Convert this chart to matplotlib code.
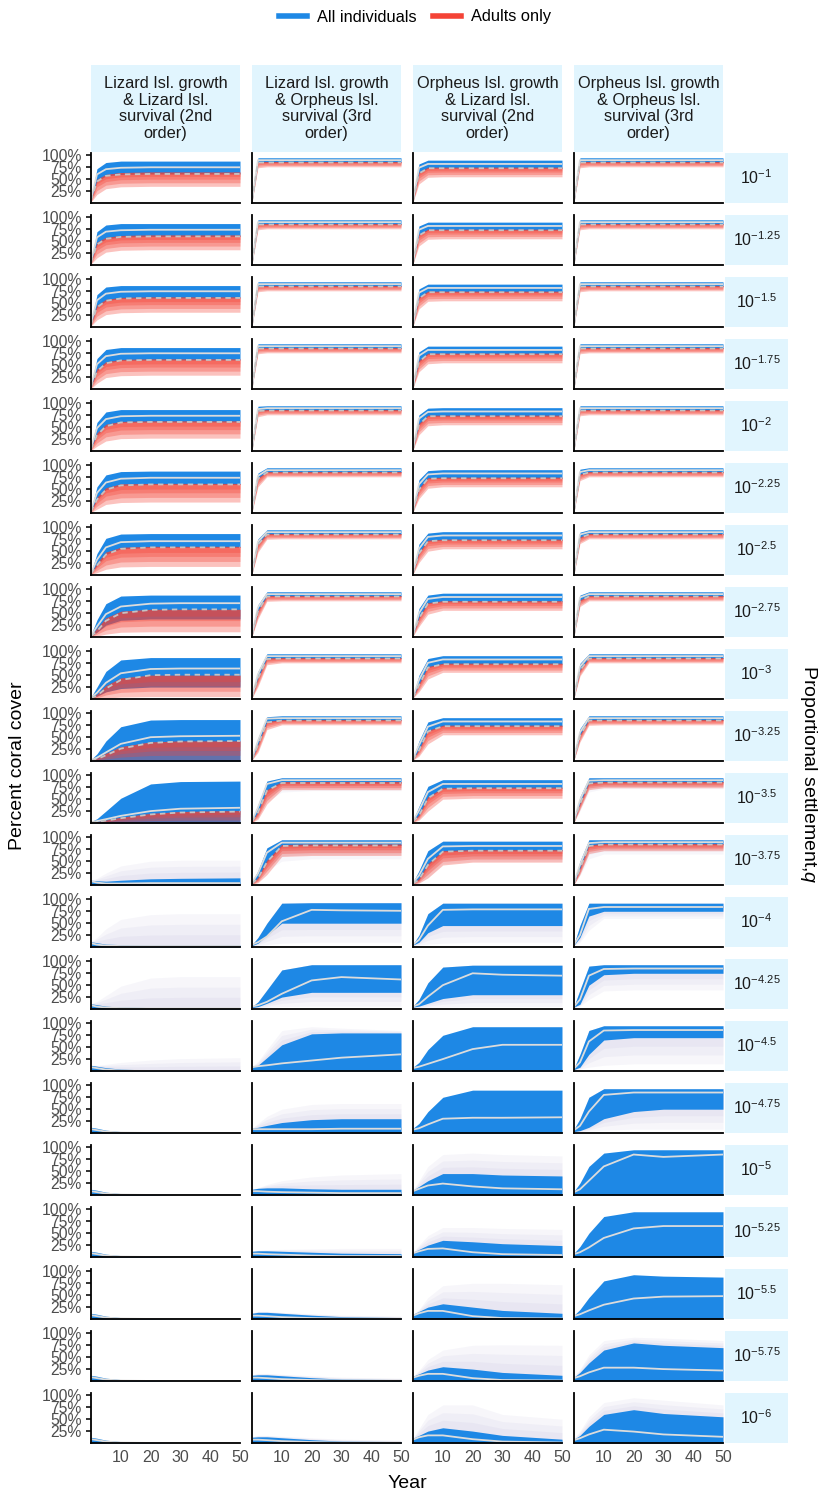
import numpy as np
import matplotlib.pyplot as plt
from matplotlib.lines import Line2D

plt.rcParams['font.family'] = ['Liberation Sans', 'DejaVu Sans']
plt.rcParams['mathtext.fontset'] = 'custom'
plt.rcParams['mathtext.rm'] = 'Liberation Sans'
plt.rcParams['mathtext.it'] = 'Liberation Sans:italic'

# sampled years for every trajectory summary
YEARS = [0, 2, 5, 10, 20, 30, 50]

PANEL_TITLES = [
    "Lizard Isl. growth\n& Lizard Isl.\nsurvival (2nd\norder)",
    "Lizard Isl. growth\n& Orpheus Isl.\nsurvival (3rd\norder)",
    "Orpheus Isl. growth\n& Lizard Isl.\nsurvival (2nd\norder)",
    "Orpheus Isl. growth\n& Orpheus Isl.\nsurvival (3rd\norder)",
]
Q_EXPONENTS = ['-1', '-1.25', '-1.5', '-1.75', '-2', '-2.25', '-2.5', '-2.75',
               '-3', '-3.25', '-3.5', '-3.75', '-4', '-4.25', '-4.5', '-4.75',
               '-5', '-5.25', '-5.5', '-5.75', '-6']
Y_TICKS = [0.25, 0.5, 0.75, 1.0]
Y_TICK_LABELS = ['25%', '50%', '75%', '100%']
X_TICKS = [10, 20, 30, 40, 50]

# ---- Lizard growth & Lizard survival ----
LL_HI = [
    [.10, .72, .85, .88, .88, .88, .88],
    [.10, .70, .84, .87, .87, .87, .87],
    [.10, .68, .84, .87, .87, .87, .87],
    [.09, .64, .83, .87, .87, .87, .87],
    [.08, .60, .82, .87, .87, .87, .87],
    [.07, .55, .80, .87, .88, .88, .88],
    [.06, .45, .77, .86, .87, .87, .87],
    [.05, .36, .70, .86, .88, .88, .88],
    [.04, .25, .58, .82, .87, .87, .87],
    [.03, .15, .42, .72, .86, .87, .87],
    [.03, .09, .25, .52, .82, .87, .88],
    [.10, .09, .08, .10, .13, .14, .15],
    [.11, .09, .06, .05, .04, .04, .04],
    [.11, .09, .06, .04, .03, .03, .03],
    [.12, .10, .07, .04, .02, .02, .02],
    [.12, .10, .06, .03, .01, .00, .00],
    [.12, .10, .06, .03, .01, .00, .00],
    [.12, .10, .06, .03, .01, .00, .00],
    [.12, .10, .06, .03, .01, .00, .00],
    [.12, .10, .06, .03, .01, .00, .00],
    [.12, .10, .06, .03, .01, .00, .00],
]
LL_MED = [
    [.08, .60, .71, .74, .75, .75, .75],
    [.08, .58, .70, .73, .74, .74, .74],
    [.08, .56, .70, .74, .75, .75, .75],
    [.07, .52, .69, .74, .75, .75, .75],
    [.06, .48, .67, .73, .74, .74, .74],
    [.05, .42, .64, .72, .74, .74, .74],
    [.04, .32, .58, .69, .71, .71, .71],
    [.03, .22, .48, .64, .70, .71, .71],
    [.03, .13, .34, .54, .63, .64, .64],
    [.02, .07, .18, .36, .50, .52, .53],
    [.02, .04, .08, .15, .25, .30, .32],
    [.08, .05, .03, .03, .04, .04, .04],
    [.08, .05, .03, .02, .02, .02, .02],
    [.08, .05, .03, .02, .01, .01, .01],
    [.08, .06, .03, .01, .00, .00, .00],
    [.08, .06, .03, .01, .00, .00, .00],
    [.08, .06, .03, .01, .00, .00, .00],
    [.08, .06, .03, .01, .00, .00, .00],
    [.08, .06, .03, .01, .00, .00, .00],
    [.08, .06, .03, .01, .00, .00, .00],
    [.08, .06, .03, .01, .00, .00, .00],
]
LL_LO = {
    7: [.02, .10, .25, .35, .38, .38, .38],
    8: [.01, .06, .15, .22, .25, .25, .25],
    9: [0, 0, 0, 0, 0, 0, 0],
    10: [0, 0, 0, 0, 0, 0, 0], 11: [0, 0, 0, 0, 0, 0, 0],
    12: [0, 0, 0, 0, 0, 0, 0], 13: [0, 0, 0, 0, 0, 0, 0],
    14: [0, 0, 0, 0, 0, 0, 0], 15: [0, 0, 0, 0, 0, 0, 0],
    16: [0, 0, 0, 0, 0, 0, 0], 17: [0, 0, 0, 0, 0, 0, 0],
    18: [0, 0, 0, 0, 0, 0, 0], 19: [0, 0, 0, 0, 0, 0, 0],
    20: [0, 0, 0, 0, 0, 0, 0],
}
LL_SPREAD_HI = {
    11: [.10, .14, .25, .40, .50, .52, .52],
    12: [.11, .20, .38, .58, .68, .70, .70],
    13: [.11, .16, .28, .48, .65, .68, .68],
    14: [.12, .12, .14, .18, .23, .26, .28],
}
LL_SPREAD_LO = {}
LL_AD_HI = [
    [.06, .50, .60, .64, .65, .65, .65],
    [.06, .48, .58, .62, .63, .63, .63],
    [.06, .46, .58, .62, .63, .63, .63],
    [.05, .42, .57, .62, .63, .63, .63],
    [.05, .38, .56, .62, .63, .63, .63],
    [.04, .33, .53, .61, .62, .62, .62],
    [.03, .25, .48, .58, .60, .60, .60],
    [.03, .18, .40, .54, .58, .58, .58],
    [.02, .10, .28, .44, .50, .50, .50],
    [.02, .06, .16, .30, .40, .42, .42],
    [.01, .03, .06, .12, .20, .24, .26],
]
LL_AD_MED = [
    [.05, .45, .57, .60, .61, .61, .61],
    [.05, .43, .55, .59, .60, .60, .60],
    [.05, .41, .55, .60, .61, .61, .61],
    [.04, .37, .54, .60, .61, .61, .61],
    [.04, .33, .52, .60, .61, .61, .61],
    [.03, .28, .49, .58, .60, .60, .60],
    [.03, .20, .43, .55, .58, .58, .58],
    [.02, .12, .34, .50, .57, .58, .58],
    [.02, .07, .22, .40, .50, .51, .51],
    [.01, .04, .12, .26, .38, .41, .42],
    [.01, .02, .05, .10, .18, .22, .24],
]
LL_AD_LO = [
    [.02, .18, .30, .34, .35, .35, .35],
    [.02, .15, .27, .31, .32, .32, .32],
    [.02, .15, .26, .30, .31, .31, .31],
    [.01, .12, .24, .28, .29, .29, .29],
    [.01, .10, .21, .26, .27, .27, .27],
    [.01, .08, .18, .22, .23, .23, .23],
    [.01, .05, .12, .17, .18, .18, .18],
    [.00, .02, .06, .10, .11, .11, .11],
    [.00, .00, .02, .04, .05, .05, .05],
    [.00, .00, .00, .01, .02, .02, .02],
    [.00, .00, .00, .00, .00, .00, .00],
]

# ---- Lizard growth & Orpheus survival ----
LO_HI = [
    [.08, .95, .95, .95, .95, .95, .95],
    [.08, .95, .95, .95, .95, .95, .95],
    [.08, .95, .95, .95, .95, .95, .95],
    [.08, .95, .95, .95, .95, .95, .95],
    [.08, .94, .95, .95, .95, .95, .95],
    [.08, .84, .95, .95, .95, .95, .95],
    [.08, .76, .95, .95, .95, .95, .95],
    [.07, .68, .95, .95, .95, .95, .95],
    [.07, .58, .95, .95, .95, .95, .95],
    [.06, .48, .93, .95, .95, .95, .95],
    [.06, .38, .88, .95, .95, .95, .95],
    [.06, .30, .78, .95, .95, .95, .95],
    [.05, .20, .50, .92, .93, .93, .93],
    [.05, .15, .40, .82, .93, .93, .93],
    [.08, .12, .28, .55, .78, .80, .80],
    [.10, .12, .16, .22, .28, .30, .30],
    [.12, .14, .15, .15, .13, .12, .12],
    [.12, .13, .13, .12, .10, .08, .07],
    [.12, .14, .14, .12, .08, .05, .03],
    [.12, .13, .13, .11, .07, .04, .03],
    [.12, .13, .13, .11, .07, .04, .03],
]
LO_MED = [
    [.06, .90, .90, .90, .90, .90, .90],
    [.06, .90, .90, .90, .90, .90, .90],
    [.06, .90, .90, .90, .90, .90, .90],
    [.06, .90, .90, .90, .90, .90, .90],
    [.06, .88, .90, .90, .90, .90, .90],
    [.06, .78, .90, .90, .90, .90, .90],
    [.06, .70, .90, .90, .90, .90, .90],
    [.05, .62, .90, .90, .90, .90, .90],
    [.05, .52, .90, .90, .90, .90, .90],
    [.05, .42, .89, .90, .90, .90, .90],
    [.05, .32, .82, .90, .90, .90, .90],
    [.05, .24, .68, .89, .89, .89, .89],
    [.05, .10, .22, .54, .78, .77, .76],
    [.05, .08, .15, .32, .60, .67, .62],
    [.08, .10, .12, .16, .22, .28, .35],
    [.08, .08, .08, .08, .08, .09, .09],
    [.08, .08, .07, .06, .05, .04, .04],
    [.07, .07, .06, .05, .03, .02, .02],
    [.07, .07, .06, .04, .02, .01, .01],
    [.07, .07, .06, .04, .02, .01, .01],
    [.07, .07, .06, .04, .02, .01, .01],
]
LO_LO = {
    12: [.03, .08, .25, .50, .50, .50, .50],
    13: [.03, .05, .12, .25, .35, .35, .35],
    14: [0, 0, 0, 0, 0, 0, 0], 15: [0, 0, 0, 0, 0, 0, 0],
    16: [0, 0, 0, 0, 0, 0, 0], 17: [0, 0, 0, 0, 0, 0, 0],
    18: [0, 0, 0, 0, 0, 0, 0], 19: [0, 0, 0, 0, 0, 0, 0],
    20: [0, 0, 0, 0, 0, 0, 0],
}
LO_SPREAD_HI = {
    14: [.10, .20, .45, .85, .93, .90, .85],
    15: [.10, .20, .35, .50, .60, .62, .62],
    16: [.12, .15, .22, .30, .38, .42, .45],
    17: [.12, .14, .15, .16, .17, .18, .18],
    18: [.13, .16, .16, .14, .11, .08, .06],
    19: [.13, .16, .16, .14, .11, .08, .06],
    20: [.13, .16, .16, .14, .11, .08, .06],
}
LO_SPREAD_LO = {
    10: [.03, .15, .45, .65, .68, .68, .68],
    11: [.03, .08, .30, .50, .55, .55, .55],
    12: [.02, .03, .05, .08, .10, .10, .10],
    13: [.02, .02, .03, .05, .06, .06, .06],
}
LO_AD_HI = [
    [.04, .87, .87, .87, .87, .87, .87],
    [.04, .87, .87, .87, .87, .87, .87],
    [.04, .87, .87, .87, .87, .87, .87],
    [.04, .87, .87, .87, .87, .87, .87],
    [.04, .86, .87, .87, .87, .87, .87],
    [.04, .74, .87, .87, .87, .87, .87],
    [.04, .66, .87, .87, .87, .87, .87],
    [.04, .56, .87, .87, .87, .87, .87],
    [.04, .45, .86, .87, .87, .87, .87],
    [.03, .35, .83, .87, .87, .87, .87],
    [.03, .24, .70, .87, .87, .87, .87],
    [.03, .16, .52, .85, .86, .86, .86],
]
LO_AD_MED = [
    [.04, .85, .85, .85, .85, .85, .85],
    [.04, .85, .85, .85, .85, .85, .85],
    [.04, .85, .85, .85, .85, .85, .85],
    [.04, .85, .85, .85, .85, .85, .85],
    [.04, .84, .85, .85, .85, .85, .85],
    [.04, .72, .85, .85, .85, .85, .85],
    [.04, .64, .85, .85, .85, .85, .85],
    [.04, .54, .85, .85, .85, .85, .85],
    [.04, .43, .84, .85, .85, .85, .85],
    [.03, .33, .81, .85, .85, .85, .85],
    [.03, .22, .68, .84, .84, .84, .84],
    [.03, .14, .48, .82, .83, .83, .83],
]
LO_AD_LO = [
    [.02, .74, .76, .76, .76, .76, .76],
    [.02, .74, .76, .76, .76, .76, .76],
    [.02, .74, .76, .76, .76, .76, .76],
    [.02, .74, .76, .76, .76, .76, .76],
    [.02, .72, .76, .76, .76, .76, .76],
    [.02, .55, .76, .76, .76, .76, .76],
    [.02, .48, .75, .76, .76, .76, .76],
    [.02, .38, .75, .76, .76, .76, .76],
    [.02, .26, .72, .76, .76, .76, .76],
    [.02, .18, .66, .76, .76, .76, .76],
    [.01, .08, .40, .70, .70, .70, .70],
    [.01, .05, .22, .60, .62, .62, .62],
]

# ---- Orpheus growth & Lizard survival ----
OL_HI = [
    [.08, .82, .90, .90, .90, .90, .90],
    [.08, .82, .90, .90, .90, .90, .90],
    [.08, .80, .90, .90, .90, .90, .90],
    [.08, .78, .90, .90, .90, .90, .90],
    [.08, .76, .90, .91, .91, .91, .91],
    [.07, .70, .89, .91, .91, .91, .91],
    [.07, .65, .88, .91, .91, .91, .91],
    [.07, .60, .88, .92, .92, .92, .92],
    [.06, .50, .85, .91, .91, .91, .91],
    [.06, .42, .82, .91, .91, .91, .91],
    [.06, .35, .77, .91, .91, .91, .91],
    [.06, .30, .72, .92, .92, .92, .92],
    [.06, .25, .70, .92, .92, .92, .92],
    [.06, .20, .55, .88, .92, .92, .92],
    [.08, .18, .45, .75, .93, .93, .93],
    [.10, .20, .45, .75, .90, .90, .90],
    [.10, .18, .30, .45, .45, .42, .40],
    [.10, .16, .25, .35, .32, .28, .24],
    [.10, .16, .25, .32, .25, .18, .12],
    [.10, .15, .23, .30, .25, .18, .12],
    [.10, .16, .25, .32, .25, .16, .08],
]
OL_MED = [
    [.06, .74, .82, .82, .82, .82, .82],
    [.06, .74, .82, .82, .82, .82, .82],
    [.06, .72, .82, .82, .82, .82, .82],
    [.06, .70, .82, .82, .82, .82, .82],
    [.06, .68, .82, .83, .83, .83, .83],
    [.05, .60, .81, .83, .83, .83, .83],
    [.05, .55, .80, .83, .83, .83, .83],
    [.05, .50, .80, .84, .84, .84, .84],
    [.05, .40, .76, .83, .83, .83, .83],
    [.05, .33, .72, .83, .83, .83, .83],
    [.05, .26, .65, .82, .82, .82, .82],
    [.05, .20, .55, .81, .82, .82, .82],
    [.05, .15, .45, .78, .79, .79, .79],
    [.05, .10, .26, .50, .75, .72, .70],
    [.06, .09, .15, .25, .46, .55, .55],
    [.07, .10, .18, .30, .32, .32, .33],
    [.08, .13, .20, .24, .18, .14, .12],
    [.08, .12, .17, .18, .10, .06, .04],
    [.07, .12, .17, .17, .06, .02, .01],
    [.07, .11, .15, .15, .06, .02, .01],
    [.07, .12, .16, .16, .08, .03, .01],
]
OL_LO = {
    12: [.04, .10, .30, .45, .45, .45, .45],
    13: [.04, .06, .12, .22, .30, .30, .30],
    14: [0, 0, 0, 0, 0, 0, 0], 15: [0, 0, 0, 0, 0, 0, 0],
    16: [0, 0, 0, 0, 0, 0, 0], 17: [0, 0, 0, 0, 0, 0, 0],
    18: [0, 0, 0, 0, 0, 0, 0], 19: [0, 0, 0, 0, 0, 0, 0],
    20: [0, 0, 0, 0, 0, 0, 0],
}
OL_SPREAD_HI = {
    16: [.10, .30, .60, .85, .88, .85, .82],
    17: [.10, .25, .45, .62, .62, .60, .58],
    18: [.10, .20, .45, .70, .75, .75, .72],
    19: [.10, .22, .45, .65, .75, .76, .75],
    20: [.10, .30, .60, .80, .80, .60, .50],
}
OL_SPREAD_LO = {
    11: [.03, .05, .15, .45, .50, .50, .50],
    12: [.03, .04, .06, .08, .10, .10, .10],
    13: [.02, .02, .03, .04, .05, .05, .05],
}
OL_AD_HI = [
    [.05, .65, .75, .75, .75, .75, .75],
    [.05, .65, .75, .75, .75, .75, .75],
    [.05, .63, .75, .75, .75, .75, .75],
    [.05, .60, .75, .75, .75, .75, .75],
    [.05, .58, .75, .75, .75, .75, .75],
    [.05, .52, .74, .75, .75, .75, .75],
    [.04, .48, .73, .75, .75, .75, .75],
    [.04, .42, .72, .76, .76, .76, .76],
    [.04, .32, .68, .75, .75, .75, .75],
    [.04, .25, .64, .75, .75, .75, .75],
    [.03, .18, .55, .74, .75, .75, .75],
    [.03, .14, .45, .72, .74, .74, .74],
]
OL_AD_MED = [
    [.04, .62, .73, .73, .73, .73, .73],
    [.04, .62, .73, .73, .73, .73, .73],
    [.04, .60, .73, .73, .73, .73, .73],
    [.04, .57, .73, .73, .73, .73, .73],
    [.04, .55, .73, .73, .73, .73, .73],
    [.04, .49, .72, .73, .73, .73, .73],
    [.04, .45, .71, .73, .73, .73, .73],
    [.04, .39, .70, .74, .74, .74, .74],
    [.03, .29, .66, .73, .73, .73, .73],
    [.03, .22, .62, .73, .73, .73, .73],
    [.03, .15, .52, .72, .73, .73, .73],
    [.03, .11, .42, .70, .72, .72, .72],
]
OL_AD_LO = [
    [.02, .40, .54, .55, .55, .55, .55],
    [.02, .40, .54, .55, .55, .55, .55],
    [.02, .38, .54, .55, .55, .55, .55],
    [.02, .36, .53, .55, .55, .55, .55],
    [.02, .34, .53, .55, .55, .55, .55],
    [.02, .30, .52, .55, .55, .55, .55],
    [.02, .26, .50, .55, .55, .55, .55],
    [.02, .22, .48, .56, .56, .56, .56],
    [.02, .15, .42, .56, .56, .56, .56],
    [.02, .10, .36, .55, .55, .55, .55],
    [.01, .06, .25, .50, .52, .52, .52],
    [.01, .04, .15, .42, .48, .48, .48],
]

# ---- Orpheus growth & Orpheus survival ----
OO_HI = [
    [.08, .95, .95, .95, .95, .95, .95],
    [.08, .95, .95, .95, .95, .95, .95],
    [.08, .95, .95, .95, .95, .95, .95],
    [.08, .95, .95, .95, .95, .95, .95],
    [.08, .95, .95, .95, .95, .95, .95],
    [.08, .92, .95, .95, .95, .95, .95],
    [.08, .90, .95, .95, .95, .95, .95],
    [.08, .88, .95, .95, .95, .95, .95],
    [.07, .75, .95, .95, .95, .95, .95],
    [.07, .68, .95, .95, .95, .95, .95],
    [.06, .55, .95, .95, .95, .95, .95],
    [.06, .50, .95, .95, .95, .95, .95],
    [.06, .45, .92, .92, .92, .92, .92],
    [.06, .40, .90, .93, .93, .93, .93],
    [.06, .35, .85, .95, .95, .95, .95],
    [.08, .30, .75, .93, .93, .93, .93],
    [.08, .25, .60, .88, .95, .95, .95],
    [.08, .22, .50, .85, .95, .95, .95],
    [.08, .20, .45, .80, .93, .90, .88],
    [.08, .18, .38, .65, .80, .75, .70],
    [.08, .16, .35, .60, .70, .62, .55],
]
OO_MED = [
    [.06, .90, .90, .90, .90, .90, .90],
    [.06, .90, .90, .90, .90, .90, .90],
    [.06, .90, .90, .90, .90, .90, .90],
    [.06, .90, .90, .90, .90, .90, .90],
    [.06, .90, .90, .90, .90, .90, .90],
    [.06, .86, .90, .90, .90, .90, .90],
    [.06, .85, .90, .90, .90, .90, .90],
    [.06, .83, .90, .90, .90, .90, .90],
    [.06, .68, .90, .90, .90, .90, .90],
    [.06, .60, .90, .90, .90, .90, .90],
    [.05, .48, .89, .90, .90, .90, .90],
    [.05, .42, .88, .90, .90, .90, .90],
    [.05, .25, .80, .84, .84, .84, .84],
    [.05, .20, .70, .84, .85, .85, .85],
    [.05, .18, .62, .85, .86, .86, .86],
    [.06, .15, .45, .80, .85, .85, .85],
    [.06, .12, .30, .60, .85, .80, .85],
    [.06, .10, .20, .40, .60, .65, .65],
    [.06, .10, .18, .30, .43, .47, .48],
    [.06, .10, .18, .28, .28, .25, .22],
    [.06, .10, .18, .28, .24, .18, .13],
]
OO_LO = {
    12: [.04, .20, .65, .75, .75, .75, .75],
    13: [.04, .10, .50, .72, .75, .75, .75],
    14: [.03, .08, .35, .65, .70, .70, .70],
    15: [.03, .05, .12, .30, .45, .50, .50],
    16: [0, 0, 0, 0, 0, 0, 0], 17: [0, 0, 0, 0, 0, 0, 0],
    18: [0, 0, 0, 0, 0, 0, 0], 19: [0, 0, 0, 0, 0, 0, 0],
    20: [0, 0, 0, 0, 0, 0, 0],
}
OO_SPREAD_HI = {
    19: [.10, .25, .55, .85, .92, .90, .85],
    20: [.10, .25, .55, .85, .95, .90, .80],
}
OO_SPREAD_LO = {
    10: [.03, .25, .65, .72, .72, .72, .72],
    11: [.03, .20, .55, .65, .65, .65, .65],
    12: [.03, .10, .35, .60, .60, .60, .60],
    13: [.03, .06, .20, .38, .40, .40, .40],
    14: [.02, .04, .08, .12, .15, .15, .15],
    15: [.02, .02, .04, .06, .08, .08, .08],
}
OO_AD_HI = [
    [.04, .87, .87, .87, .87, .87, .87],
    [.04, .87, .87, .87, .87, .87, .87],
    [.04, .87, .87, .87, .87, .87, .87],
    [.04, .87, .87, .87, .87, .87, .87],
    [.04, .87, .87, .87, .87, .87, .87],
    [.04, .82, .87, .87, .87, .87, .87],
    [.04, .80, .87, .87, .87, .87, .87],
    [.04, .78, .87, .87, .87, .87, .87],
    [.04, .62, .87, .87, .87, .87, .87],
    [.04, .55, .87, .87, .87, .87, .87],
    [.03, .42, .85, .87, .87, .87, .87],
    [.03, .36, .84, .87, .87, .87, .87],
]
OO_AD_MED = [
    [.04, .85, .85, .85, .85, .85, .85],
    [.04, .85, .85, .85, .85, .85, .85],
    [.04, .85, .85, .85, .85, .85, .85],
    [.04, .85, .85, .85, .85, .85, .85],
    [.04, .85, .85, .85, .85, .85, .85],
    [.04, .80, .85, .85, .85, .85, .85],
    [.04, .78, .85, .85, .85, .85, .85],
    [.04, .76, .85, .85, .85, .85, .85],
    [.04, .60, .85, .85, .85, .85, .85],
    [.04, .53, .85, .85, .85, .85, .85],
    [.03, .40, .83, .85, .85, .85, .85],
    [.03, .34, .82, .85, .85, .85, .85],
]
OO_AD_LO = [
    [.02, .74, .76, .76, .76, .76, .76],
    [.02, .74, .76, .76, .76, .76, .76],
    [.02, .74, .76, .76, .76, .76, .76],
    [.02, .74, .76, .76, .76, .76, .76],
    [.02, .74, .76, .76, .76, .76, .76],
    [.02, .68, .76, .76, .76, .76, .76],
    [.02, .66, .76, .76, .76, .76, .76],
    [.02, .64, .76, .76, .76, .76, .76],
    [.02, .48, .76, .76, .76, .76, .76],
    [.02, .40, .75, .76, .76, .76, .76],
    [.01, .28, .70, .74, .74, .74, .74],
    [.01, .22, .66, .72, .72, .72, .72],
]

COLUMNS = [
    dict(hi=LL_HI, med=LL_MED, lo=LL_LO, s_hi=LL_SPREAD_HI, s_lo=LL_SPREAD_LO,
         a_hi=LL_AD_HI, a_med=LL_AD_MED, a_lo=LL_AD_LO),
    dict(hi=LO_HI, med=LO_MED, lo=LO_LO, s_hi=LO_SPREAD_HI, s_lo=LO_SPREAD_LO,
         a_hi=LO_AD_HI, a_med=LO_AD_MED, a_lo=LO_AD_LO),
    dict(hi=OL_HI, med=OL_MED, lo=OL_LO, s_hi=OL_SPREAD_HI, s_lo=OL_SPREAD_LO,
         a_hi=OL_AD_HI, a_med=OL_AD_MED, a_lo=OL_AD_LO),
    dict(hi=OO_HI, med=OO_MED, lo=OO_LO, s_hi=OO_SPREAD_HI, s_lo=OO_SPREAD_LO,
         a_hi=OO_AD_HI, a_med=OO_AD_MED, a_lo=OO_AD_LO),
]

BLUE = '#1E88E5'
RED = '#F44336'
HAZE = '#8F89C4'
STRIP = '#E1F5FE'
MED_ALL = '#DCDCDC'
MED_ADULT = '#C4C4C4'
TICK_GREY = '#4D4D4D'

W, H = 819, 1495
COL_X = [91, 252, 413, 574]
PANEL_W, PANEL_H = 149, 50
ROW_TOP, ROW_STEP = 153, 62


def box(x0, y0, w, h):
    return [x0 / W, 1 - (y0 + h) / H, w / W, h / H]


def draw_panel(ax, col, r):
    yrs = np.array(YEARS, dtype=float)
    hi = np.array(col['hi'][r])
    med = np.array(col['med'][r])
    has_adults = r < len(col['a_hi'])
    if has_adults:
        a_hi = np.array(col['a_hi'][r])
        a_med = np.array(col['a_med'][r])
        a_lo = np.array(col['a_lo'][r])
    lo = np.array(col['lo'][r]) if r in col['lo'] else a_med

    s_hi = np.array(col['s_hi'][r]) if r in col['s_hi'] else hi
    s_lo = np.array(col['s_lo'][r]) if r in col['s_lo'] else lo
    if r in col['s_hi'] or r in col['s_lo']:
        # thin individual runs fading away from the dense band
        for f in (1.0, 0.66, 0.33):
            ax.fill_between(yrs, lo - f * (lo - s_lo), hi + f * (s_hi - hi),
                            color=HAZE, alpha=0.07, lw=0)

    ax.fill_between(yrs, lo, hi, color=BLUE, lw=0)

    if has_adults:
        for f in (1.0, 0.75, 0.5, 0.3):
            ax.fill_between(yrs, a_hi - f * (a_hi - a_lo), a_hi,
                            color=RED, alpha=0.32, lw=0)
    ax.plot(yrs, med, color=MED_ALL, lw=1.3, solid_capstyle='butt')
    if has_adults:
        ax.plot(yrs, a_med, color=MED_ADULT, lw=1.3, dashes=(3, 2.5))


fig = plt.figure(figsize=(W / 100, H / 100), dpi=100)

for c, col in enumerate(COLUMNS):
    sax = fig.add_axes(box(COL_X[c], 65, PANEL_W, 87))
    sax.set_facecolor(STRIP)
    sax.set_xticks([])
    sax.set_yticks([])
    for sp in sax.spines.values():
        sp.set_visible(False)
    sax.text(0.5, 0.5, PANEL_TITLES[c], ha='center', va='center',
             fontsize=11.8, color='#1A1A1A', linespacing=1.12,
             transform=sax.transAxes)

    for r in range(len(Q_EXPONENTS)):
        ax = fig.add_axes(box(COL_X[c], ROW_TOP + ROW_STEP * r, PANEL_W, PANEL_H))
        draw_panel(ax, col, r)
        ax.set_xlim(0, 50)
        ax.set_ylim(0, 1.05)
        for side in ('top', 'right'):
            ax.spines[side].set_visible(False)
        for side in ('left', 'bottom'):
            ax.spines[side].set_linewidth(1.3)
            ax.spines[side].set_color('black')
        ax.set_xticks(X_TICKS)
        if r == len(Q_EXPONENTS) - 1:
            ax.set_xticklabels([str(t) for t in X_TICKS])
        else:
            ax.set_xticklabels([])
        ax.tick_params(axis='x', length=0, pad=5, labelsize=11.5,
                       labelcolor=TICK_GREY)
        if c == 0:
            ax.set_yticks(Y_TICKS)
            ax.set_yticklabels(Y_TICK_LABELS)
            ax.tick_params(axis='y', length=3.5, width=1.3, color='#222222',
                           pad=3, labelsize=11.3, labelcolor=TICK_GREY)
        else:
            ax.set_yticks([])

for r, q in enumerate(Q_EXPONENTS):
    qax = fig.add_axes(box(725, ROW_TOP + ROW_STEP * r, 63, PANEL_H))
    qax.set_facecolor(STRIP)
    qax.set_xticks([])
    qax.set_yticks([])
    for sp in qax.spines.values():
        sp.set_visible(False)
    qax.text(0.5, 0.5, r'$10^{%s}$' % q, ha='center', va='center',
             fontsize=11.5, color='#1A1A1A', transform=qax.transAxes)

handles = [Line2D([], [], color=BLUE, lw=4), Line2D([], [], color=RED, lw=4)]
fig.legend(handles, ['All individuals', 'Adults only'], loc='center',
           bbox_to_anchor=(415 / W, 1 - 17 / H), ncol=2, frameon=False,
           fontsize=11.8, handlelength=1.7, handletextpad=0.6,
           columnspacing=1.0)

fig.text(18 / W, 1 - 766 / H, 'Percent coral cover', rotation=90,
         ha='center', va='center', fontsize=14)
fig.text(808 / W, 1 - 774 / H, 'Proportional settlement,$q$', rotation=-90,
         ha='center', va='center', fontsize=14)
fig.text(407 / W, 1 - 1483 / H, 'Year', ha='center', va='center', fontsize=14)

fig.savefig('out.png', dpi=100)
